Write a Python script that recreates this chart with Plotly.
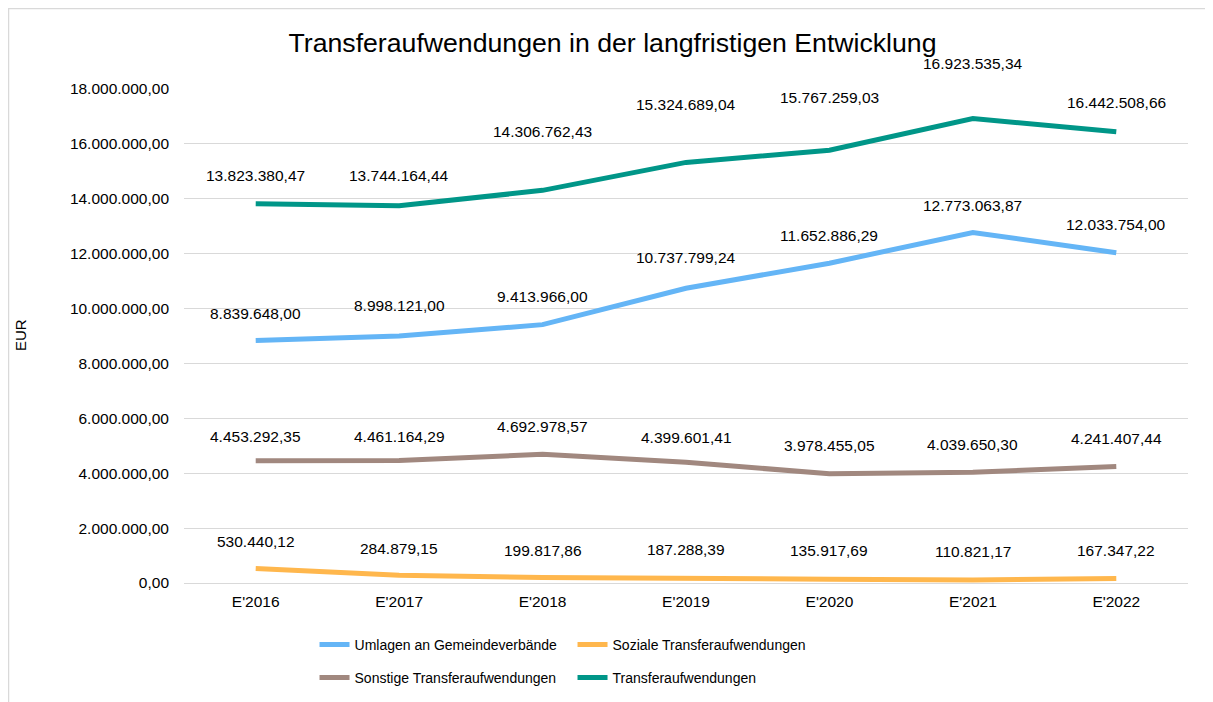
import plotly.graph_objects as go

categories = ["E'2016", "E'2017", "E'2018", "E'2019", "E'2020", "E'2021", "E'2022"]
umlagen = [8839648.00, 8998121.00, 9413966.00, 10737799.24, 11652886.29, 12773063.87, 12033754.00]
soziale = [530440.12, 284879.15, 199817.86, 187288.39, 135917.69, 110821.17, 167347.22]
sonstige = [4453292.35, 4461164.29, 4692978.57, 4399601.41, 3978455.05, 4039650.30, 4241407.44]
transfer = [13823380.47, 13744164.44, 14306762.43, 15324689.04, 15767259.03, 16923535.34, 16442508.66]

series = [
    ("Umlagen an Gemeindeverbände", umlagen, "#64B5F6", "legend"),
    ("Soziale Transferaufwendungen", soziale, "#FFB74D", "legend"),
    ("Sonstige Transferaufwendungen", sonstige, "#A1887F", "legend2"),
    ("Transferaufwendungen", transfer, "#009688", "legend2"),
]

# label offsets in pixels above the point (styling, not data)
label_shift = {
    "Umlagen an Gemeindeverbände": [27, 31, 28, 31, 28, 27, 28],
    "Soziale Transferaufwendungen": [27, 27, 27, 28, 29, 28, 28],
    "Sonstige Transferaufwendungen": [24, 24, 28, 25, 28, 28, 28],
    "Transferaufwendungen": [28, 30, 59, 58, 53, 55, 29],
}

def de_fmt(v):
    s = f"{v:,.2f}"
    return s.replace(",", "X").replace(".", ",").replace("X", ".")

FONT = "Liberation Sans, Arial, sans-serif"
NUM = 15.5
fig = go.Figure()
annotations = []
for name, vals, color, leg in series:
    fig.add_trace(go.Scatter(
        x=categories, y=vals, name=name, mode="lines",
        line=dict(color=color, width=5), legend=leg,
        hoverinfo="skip",
    ))
    for c, v, sh in zip(categories, vals, label_shift[name]):
        annotations.append(dict(
            x=c, y=v, xref="x", yref="y", text=de_fmt(v), showarrow=False,
            yshift=sh, font=dict(family=FONT, size=NUM, color="#000000"),
            xanchor="center", yanchor="middle",
        ))

annotations.append(dict(
    x=-0.1633, y=0.502, xref="paper", yref="paper", text="EUR", showarrow=False,
    textangle=-90, font=dict(family=FONT, size=15, color="#000000"),
    xanchor="center", yanchor="middle",
))

fig.update_layout(
    width=1213, height=702,
    margin=dict(l=176, r=33, t=81, b=127, autoexpand=False),
    paper_bgcolor="white", plot_bgcolor="white",
    separators=",.",
    title=dict(text="Transferaufwendungen in der langfristigen Entwicklung",
               x=604.5 / 1213, xanchor="center", y=1 - 35 / 702, yanchor="middle",
               font=dict(family=FONT, size=26.67, color="#000000")),
    xaxis=dict(range=[-0.5, len(categories) - 0.5],
               showgrid=False, showline=False, zeroline=False, ticks="",
               ticklabelstandoff=7,
               tickfont=dict(family=FONT, size=NUM, color="#000000")),
    yaxis=dict(range=[0, 18000000], dtick=2000000, tickformat=",.2f",
               showgrid=True, gridcolor="#D9D9D9", gridwidth=1,
               zeroline=True, zerolinecolor="#D9D9D9", zerolinewidth=1,
               showline=False, ticks="", ticklabelstandoff=14,
               tickfont=dict(family=FONT, size=NUM, color="#000000")),
    legend=dict(orientation="h", x=0.130, y=-0.1255, xanchor="left", yanchor="middle",
                entrywidth=213, entrywidthmode="pixels",
                font=dict(family=FONT, size=14, color="#000000"),
                bgcolor="rgba(0,0,0,0)"),
    legend2=dict(orientation="h", x=0.130, y=-0.1923, xanchor="left", yanchor="middle",
                 entrywidth=213, entrywidthmode="pixels",
                 font=dict(family=FONT, size=14, color="#000000"),
                 bgcolor="rgba(0,0,0,0)"),
    annotations=annotations,
    shapes=[dict(type="rect", xref="paper", yref="paper",
                 x0=-0.1748, x1=1.06, y0=-0.30, y1=1.163,
                 line=dict(color="#D9D9D9", width=1.5), fillcolor="rgba(0,0,0,0)",
                 layer="below")],
)

fig.write_html("out.html")
